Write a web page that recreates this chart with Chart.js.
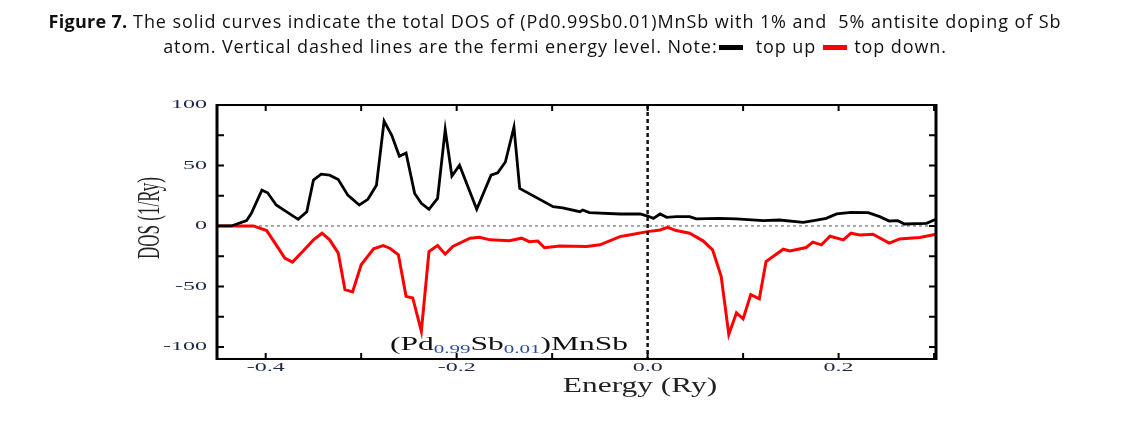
<!DOCTYPE html>
<html>
<head>
<meta charset="utf-8">
<script src="https://cdn.jsdelivr.net/npm/chart.js@4.4.1/dist/chart.umd.min.js"></script>
<style>
  html, body { margin: 0; padding: 0; background: #fff; }
  #wrap { position: relative; width: 1125px; height: 436px; overflow: hidden; }
  #dos-chart { position: absolute; left: 0; top: 0; }
  #caption {
    position: absolute; left: 0; top: 9px; width: 1110px;
    text-align: center; font-family: "Open Sans", sans-serif; font-size: 18px;
    letter-spacing: 0.9px; line-height: 25px; color: #111; white-space: nowrap;
  }
  #caption b { font-weight: 700; letter-spacing: 0.3px; }
  .key { display: inline-block; width: 24px; height: 5px; vertical-align: middle; margin: 0 2px 2px 1px; }
  .key.up { background: #000; }
  .key.down { background: #f00; }
</style>
</head>
<body>
<div id="wrap">
  <canvas id="dos-chart" width="1125" height="436"></canvas>
  <div id="caption"><b>Figure 7.</b> The solid curves indicate the total DOS of (Pd0.99Sb0.01)MnSb with 1% and &nbsp;5% antisite doping of Sb<br>atom. Vertical dashed lines are the fermi energy level. Note:<span class="key up"></span>&nbsp; top up <span class="key down"></span> top down.</div>
</div>
<script>
// spin up (black)
const upEnergy = [-0.451, -0.436, -0.420, -0.415, -0.404, -0.398, -0.389, -0.382, -0.366, -0.357,
  -0.350, -0.342, -0.333, -0.324, -0.314, -0.302, -0.293, -0.284, -0.276, -0.268,
  -0.260, -0.253, -0.244, -0.237, -0.229, -0.220, -0.212, -0.205, -0.197, -0.179,
  -0.164, -0.157, -0.149, -0.140, -0.134, -0.099, -0.089, -0.071, -0.068, -0.061,
  -0.029, -0.008, 0.000, 0.006, 0.013, 0.020, 0.030, 0.044, 0.051, 0.075,
  0.093, 0.121, 0.138, 0.163, 0.177, 0.187, 0.198, 0.213, 0.231, 0.243,
  0.253, 0.262, 0.269, 0.292, 0.302];
const upDos = [0, 0, 4.4, 10.4, 29.6, 27.4, 17.3, 13.7, 5.5, 11.8,
  37.9, 42.8, 42, 38.4, 25.5, 17.3, 22, 33.7, 86.7, 74.9,
  57.6, 60.3, 26.9, 18.7, 13.7, 22.8, 79.6, 41.2, 50.2, 13.7,
  42, 43.9, 52.9, 81.7, 31, 15.9, 15, 11.8, 13.2, 11,
  9.9, 9.9, 8.2, 6.3, 9.9, 7.1, 7.7, 7.7, 5.8, 6.3,
  5.8, 4.4, 4.9, 3, 4.9, 6.3, 9.9, 11.2, 11, 7.7,
  4.1, 4.4, 1.6, 2.2, 5.5];

// spin down (red)
const downEnergy = [-0.451, -0.413, -0.399, -0.389, -0.380, -0.372, -0.363, -0.350, -0.341, -0.333,
  -0.324, -0.317, -0.309, -0.300, -0.287, -0.277, -0.270, -0.261, -0.253, -0.246,
  -0.237, -0.229, -0.220, -0.212, -0.204, -0.186, -0.176, -0.165, -0.145, -0.132,
  -0.124, -0.115, -0.108, -0.092, -0.064, -0.050, -0.029, -0.015, 0.000, 0.013,
  0.021, 0.030, 0.044, 0.058, 0.068, 0.077, 0.085, 0.093, 0.100, 0.108,
  0.117, 0.124, 0.142, 0.149, 0.166, 0.173, 0.182, 0.191, 0.205, 0.213,
  0.222, 0.236, 0.253, 0.264, 0.274, 0.285, 0.302];
const downDos = [0, 0, -3.8, -15.6, -26.6, -29.9, -22.5, -11.5, -6, -11.5,
  -22.5, -52.7, -54.6, -32.1, -18.9, -16.2, -18.4, -23.9, -58.2, -59.5,
  -87, -21.2, -16.2, -23.3, -17, -10.1, -9.3, -11.5, -12.3, -10.1,
  -13, -12.5, -18, -16.5, -17, -15.6, -8.8, -6.8, -4.7, -3.3,
  -1.1, -3.8, -6, -12.3, -19.8, -41.7, -89.7, -71.9, -76.8, -56.8,
  -60.3, -29.4, -19.2, -20.6, -17.8, -13.4, -15.6, -8.5, -11.5, -6,
  -7.4, -6.8, -14.2, -10.7, -10.1, -9.6, -6.8];

// axes
const xTickValues = [-0.4, -0.3, -0.2, -0.1, 0.0, 0.1, 0.2, 0.3];
const xLabelValues = [-0.4, -0.2, 0.0, 0.2];
const xLabels = ['-0.4', '-0.2', '0.0', '0.2'];
const yTickValues = [-100, -75, -50, -25, 0, 25, 50, 75, 100];
const yLabelValues = [100, 50, 0, -50, -100];
const yLabels = ['100', '50', '0', '-50', '-100'];
const fermiEnergy = 0.0;

const SERIF = '"Liberation Serif", "Times New Roman", serif';
const LABEL_COLOR = '#1f2a44';

// draw text stretched horizontally like the scanned figure
function wideText(ctx, text, x, y, sx, align) {
  ctx.save();
  ctx.translate(x, y);
  ctx.scale(sx, 1);
  ctx.textAlign = align;
  ctx.fillText(text, 0, 0);
  ctx.restore();
}

const frame = {
  id: 'frame',
  beforeDatasetsDraw(chart) {
    const { ctx, chartArea: a, scales: { y } } = chart;
    const y0 = y.getPixelForValue(0);
    ctx.save();
    ctx.strokeStyle = '#555';
    ctx.lineWidth = 1;
    ctx.setLineDash([3, 3]);
    ctx.beginPath();
    ctx.moveTo(a.left, y0);
    ctx.lineTo(a.right, y0);
    ctx.stroke();
    ctx.restore();
  },
  afterDatasetsDraw(chart) {
    const { ctx, chartArea: a, scales: { x, y } } = chart;
    ctx.save();

    // fermi level
    const xf = x.getPixelForValue(fermiEnergy);
    ctx.strokeStyle = '#111';
    ctx.lineWidth = 2.5;
    ctx.setLineDash([4, 3]);
    ctx.beginPath();
    ctx.moveTo(xf, a.top);
    ctx.lineTo(xf, a.bottom);
    ctx.stroke();
    ctx.setLineDash([]);

    // box
    ctx.strokeStyle = '#000';
    ctx.lineWidth = 2;
    ctx.beginPath();
    ctx.moveTo(a.left, a.top); ctx.lineTo(a.right, a.top);
    ctx.moveTo(a.left, a.bottom); ctx.lineTo(a.right, a.bottom);
    ctx.stroke();
    ctx.lineWidth = 3;
    ctx.beginPath();
    ctx.moveTo(a.left, a.top - 1); ctx.lineTo(a.left, a.bottom + 1);
    ctx.moveTo(a.right, a.top - 1); ctx.lineTo(a.right, a.bottom + 1);
    ctx.stroke();

    // inward ticks
    ctx.lineWidth = 2;
    ctx.beginPath();
    yTickValues.forEach(v => {
      const py = y.getPixelForValue(v);
      ctx.moveTo(a.left, py); ctx.lineTo(a.left + 7, py);
      ctx.moveTo(a.right, py); ctx.lineTo(a.right - 7, py);
    });
    xTickValues.forEach(v => {
      const px = x.getPixelForValue(v);
      ctx.moveTo(px, a.bottom); ctx.lineTo(px, a.bottom - 6);
      ctx.moveTo(px, a.top); ctx.lineTo(px, a.top + 6);
    });
    ctx.stroke();

    // tick labels
    ctx.fillStyle = LABEL_COLOR;
    ctx.textBaseline = 'middle';
    ctx.font = '12px ' + SERIF;
    yLabelValues.forEach((v, i) => wideText(ctx, yLabels[i], a.left - 10, y.getPixelForValue(v), 2.0, 'right'));
    xLabelValues.forEach((v, i) => wideText(ctx, xLabels[i], x.getPixelForValue(v), a.bottom + 9, 2.0, 'center'));

    // axis titles
    ctx.fillStyle = '#222';
    ctx.textBaseline = 'alphabetic';
    ctx.font = '20px ' + SERIF;
    wideText(ctx, 'Energy (Ry)', 640, 392, 1.57, 'center');

    ctx.save();
    ctx.translate(151, 218);
    ctx.scale(1.8, 1);
    ctx.rotate(-Math.PI / 2);
    ctx.font = '17px ' + SERIF;
    ctx.textAlign = 'center';
    ctx.textBaseline = 'middle';
    ctx.fillText('DOS (1/Ry)', 0, 0);
    ctx.restore();

    // compound label
    const parts = [
      ['(Pd', false], ['0.99', true], ['Sb', false], ['0.01', true], [')MnSb', false]
    ];
    const sx = 1.75;
    let cx = 390;
    parts.forEach(([t, sub]) => {
      ctx.font = (sub ? '12px ' : '18px ') + SERIF;
      ctx.fillStyle = sub ? '#2b4c9b' : '#111';
      wideText(ctx, t, cx, sub ? 353 : 350, sx, 'left');
      cx += ctx.measureText(t).width * sx;
    });

    ctx.restore();
  }
};

const toPoints = (xs, ys) => xs.map((e, i) => ({ x: e, y: ys[i] }));

new Chart(document.getElementById('dos-chart').getContext('2d'), {
  type: 'line',
  data: {
    datasets: [
      {
        label: 'top up',
        data: toPoints(upEnergy, upDos),
        borderColor: '#000',
        borderWidth: 2.8,
        pointRadius: 0,
        tension: 0,
        fill: false
      },
      {
        label: 'top down',
        data: toPoints(downEnergy, downDos),
        borderColor: '#ff0000',
        borderWidth: 3,
        pointRadius: 0,
        tension: 0,
        fill: false
      }
    ]
  },
  options: {
    responsive: false,
    animation: false,
    layout: { padding: { left: 217, right: 189, top: 105, bottom: 77 } },
    plugins: { legend: { display: false }, tooltip: { enabled: false } },
    scales: {
      x: { type: 'linear', min: -0.451, max: 0.302, display: false },
      y: { type: 'linear', min: -110, max: 100, display: false }
    }
  },
  plugins: [frame]
});
</script>
</body>
</html>
